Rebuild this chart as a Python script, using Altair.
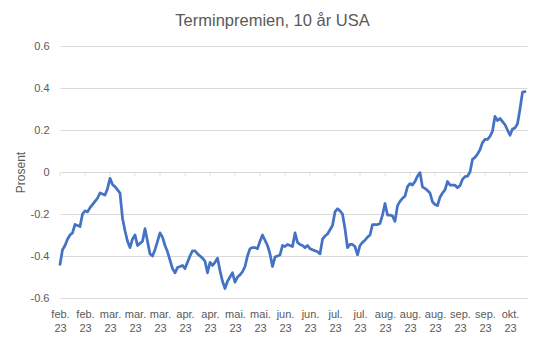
import altair as alt
import pandas as pd

title_text = "Terminpremien, 10 år USA"
y_title = "Prosent"
month_labels = ["feb.", "feb.", "mar.", "mar.", "mar.", "apr.", "apr.", "mai.", "mai.",
                "jun.", "jun.", "jul.", "jul.", "aug.", "aug.", "aug.", "sep.", "sep.", "okt."]
year_label = "23"
label_step = 10
y_ticks = [-0.6, -0.4, -0.2, 0.0, 0.2, 0.4, 0.6]

values = [
    -0.44, -0.37, -0.35, -0.32, -0.30, -0.29, -0.25, -0.255, -0.26, -0.20,
    -0.185, -0.19, -0.17, -0.155, -0.14, -0.125, -0.10, -0.105, -0.11, -0.08,
    -0.03, -0.06, -0.07, -0.085, -0.10, -0.22, -0.28, -0.33, -0.36, -0.32,
    -0.30, -0.35, -0.34, -0.33, -0.27, -0.33, -0.39, -0.40, -0.37, -0.33,
    -0.29, -0.31, -0.35, -0.38, -0.42, -0.46, -0.48, -0.455, -0.45, -0.445,
    -0.46, -0.43, -0.40, -0.375, -0.375, -0.39, -0.40, -0.41, -0.425, -0.48,
    -0.43, -0.445, -0.43, -0.41, -0.47, -0.52, -0.555, -0.52, -0.50, -0.48,
    -0.525, -0.50, -0.49, -0.475, -0.45, -0.40, -0.365, -0.36, -0.36, -0.365,
    -0.33, -0.30, -0.325, -0.35, -0.39, -0.45, -0.405, -0.40, -0.395, -0.35,
    -0.355, -0.345, -0.35, -0.355, -0.29, -0.335, -0.345, -0.35, -0.36, -0.35,
    -0.365, -0.37, -0.375, -0.38, -0.39, -0.32, -0.305, -0.295, -0.275, -0.255,
    -0.19, -0.175, -0.185, -0.20, -0.27, -0.36, -0.345, -0.345, -0.355, -0.395,
    -0.35, -0.335, -0.325, -0.31, -0.30, -0.25, -0.25, -0.25, -0.245, -0.205,
    -0.15, -0.205, -0.205, -0.21, -0.235, -0.16, -0.14, -0.125, -0.115, -0.07,
    -0.055, -0.062, -0.045, -0.02, -0.003, -0.072, -0.078, -0.088, -0.10, -0.142,
    -0.155, -0.16, -0.12, -0.10, -0.085, -0.045, -0.062, -0.063, -0.063, -0.075,
    -0.065, -0.035, -0.022, -0.02, 0.0, 0.06, 0.07, 0.085, 0.107, 0.14,
    0.155, 0.155, 0.17, 0.195, 0.265, 0.245, 0.255, 0.24, 0.225, 0.20,
    0.175, 0.205, 0.21, 0.23, 0.30, 0.38, 0.383,
]

df = pd.DataFrame({"i": list(range(len(values))), "v": values})
tick_pos = [k * label_step for k in range(len(month_labels))]
ticks_df = pd.DataFrame({"i": tick_pos, "v": [0.0] * len(tick_pos)})

label_js = "[" + ",".join(f"'{m}'" for m in month_labels) + "]"
x_label_expr = f"[{label_js}[round(datum.value/{label_step})], '{year_label}']"
y_label_expr = ("datum.value == 0 ? '0' : (datum.value < 0 ? '-' : '') + "
                "format(abs(datum.value), '.1f')")

FONT = "Liberation Sans"
TXT = "#595959"
GRID = "#D9D9D9"

xscale = alt.Scale(domain=[0, len(values) - 0.2], nice=False, zero=False)
yscale = alt.Scale(domain=[-0.6, 0.6], nice=False)

x_axis = alt.Axis(values=tick_pos, labelExpr=x_label_expr, title=None, grid=False,
                  domain=False, ticks=False, labelPadding=10, labelFontSize=11,
                  labelColor=TXT, labelFont=FONT, labelLineHeight=14,
                  labelBaseline="top", labelAngle=0, labelFlush=False,
                  labelOverlap=False, tickCount=len(tick_pos))
y_axis = alt.Axis(values=y_ticks, labelExpr=y_label_expr, title=y_title, grid=True,
                  gridColor=GRID, gridWidth=1, domain=False, ticks=False,
                  labelPadding=11, labelFontSize=11, labelColor=TXT, labelFont=FONT,
                  titleFont=FONT, titleFontSize=12, titleColor=TXT,
                  titleFontWeight="normal", titleAngle=270, titleX=-40, titleY=126,
                  titleAlign="center", titleBaseline="middle")

zero_ticks = alt.Chart(ticks_df).mark_tick(
    orient="vertical", size=4, thickness=1, color=GRID, yOffset=2
).encode(
    x=alt.X("i:Q", scale=xscale, axis=x_axis),
    y=alt.Y("v:Q", scale=yscale, axis=y_axis),
)

line = alt.Chart(df).mark_line(
    color="#4472C4", strokeWidth=2.75, strokeJoin="round", strokeCap="round"
).encode(
    x=alt.X("i:Q", scale=xscale, axis=x_axis),
    y=alt.Y("v:Q", scale=yscale, axis=y_axis),
)

chart = alt.layer(zero_ticks, line).properties(
    width=467,
    height=252,
    title=alt.TitleParams(text=title_text, font=FONT, fontSize=16.5, color=TXT,
                          fontWeight="normal", anchor="middle", dx=-21,
                          baseline="alphabetic", offset=-2),
    autosize=alt.AutoSizeParams(type="none"),
    padding={"left": 60, "top": 46, "right": 17, "bottom": 58},
    background="white",
).configure_view(stroke=None)

chart.save("out.html", embed_options={"renderer": "svg", "actions": False})
